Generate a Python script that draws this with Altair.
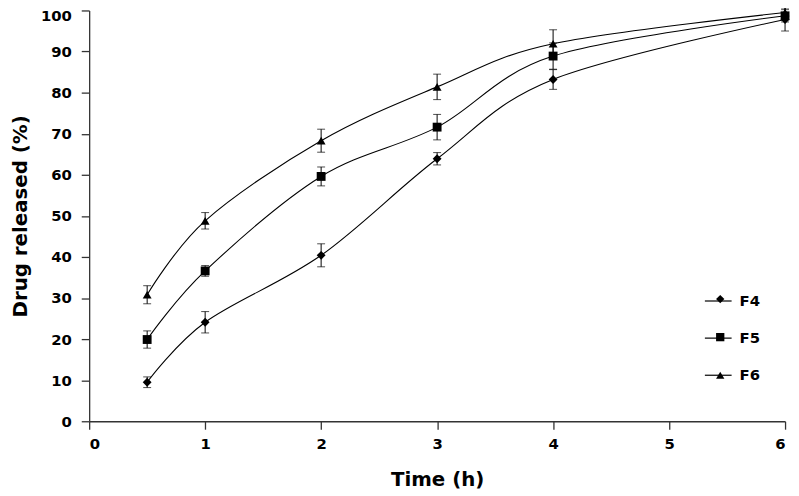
import altair as alt
import pandas as pd

times = [0.5, 1, 2, 3, 4, 6]
f4 = [9.5, 24.1, 40.4, 63.9, 83.2, 97.8]
f4_err = [1.3, 2.6, 2.8, 1.5, 2.4, 2.8]
f5 = [19.9, 36.6, 59.6, 71.6, 88.9, 98.7]
f5_err = [2.1, 1.3, 2.3, 3.1, 3.2, 1.5]
f6 = [30.8, 48.8, 68.3, 81.4, 91.9, 99.5]
f6_err = [2.2, 2.0, 2.8, 3.1, 3.4, 1.5]
series = ["F4", "F5", "F6"]
shapes = ["diamond", "square", "triangle-up"]

rows = []
for name, vals, errs in zip(series, [f4, f5, f6], [f4_err, f5_err, f6_err]):
    for t, v, e in zip(times, vals, errs):
        rows.append({"time": t, "value": v, "lo": v - e, "hi": v + e,
                     "series": name, "marker": name + " "})
df = pd.DataFrame(rows)

FONT = "DejaVu Sans"
xs = alt.Scale(domain=[0, 6], nice=False)
ys = alt.Scale(domain=[0, 100], nice=False)

x_axis = alt.Axis(values=list(range(0, 7)), title="Time (h)", format="d",
                  labelPadding=8, titleY=65, titleBaseline="alphabetic")
y_axis = alt.Axis(values=list(range(0, 101, 10)), title="Drug released (%)", format="d",
                  labelPadding=10, titleX=-63, titleAngle=270, titleBaseline="alphabetic",
                  titleAlign="center",
                  labelOffset={"condition": {"test": "datum.value == 100", "value": 5}, "value": 0})

base = alt.Chart(df)

lines = base.mark_line(interpolate="cardinal", strokeWidth=1.1).encode(
    x=alt.X("time:Q", scale=xs, axis=x_axis),
    y=alt.Y("value:Q", scale=ys, axis=y_axis),
    color=alt.Color("series:N", scale=alt.Scale(domain=series, range=["black"] * 3),
                    legend=alt.Legend(title=None, orient="none", legendX=621, legendY=279,
                                      symbolType="stroke", symbolSize=729, symbolStrokeWidth=1.2,
                                      labelFont=FONT, labelFontSize=15, labelFontWeight="bold",
                                      labelColor="black", labelOffset=7, rowPadding=14.5,
                                      padding=0, symbolStrokeColor="black")),
)

rules = base.mark_rule(color="black", strokeWidth=1).encode(
    x="time:Q", y="lo:Q", y2="hi:Q")
caps_lo = base.mark_tick(color="black", thickness=1, size=8, orient="horizontal").encode(
    x="time:Q", y="lo:Q")
caps_hi = base.mark_tick(color="black", thickness=1, size=8, orient="horizontal").encode(
    x="time:Q", y="hi:Q")

points = base.mark_point(filled=True, opacity=1, color="black", strokeWidth=0).encode(
    x="time:Q", y="value:Q",
    shape=alt.Shape("marker:N", scale=alt.Scale(domain=[s + " " for s in series], range=shapes),
                    legend=alt.Legend(title=None, orient="none", legendX=630, legendY=284,
                                      symbolSize=70, symbolFillColor="black",
                                      symbolStrokeWidth=0, labelExpr="''",
                                      labelFont=FONT, labelFontSize=15, labelFontWeight="bold",
                                      labelColor="transparent", rowPadding=22.5, padding=0)),
    size=alt.value(80),
)

chart = alt.layer(lines, rules, caps_lo, caps_hi, points).resolve_legend(
    color="independent", shape="independent"
).properties(
    width=703, height=415,
    autosize=alt.AutoSizeParams(type="none"),
    padding={"left": 82, "top": 0, "right": 6, "bottom": 73},
).configure_view(stroke=None).configure_axis(
    grid=False, domainColor="#333", tickColor="#333", domainWidth=1.3, tickWidth=1.3,
    tickSize=8, labelFont=FONT, labelFontSize=15, labelFontWeight="bold", labelColor="black",
    titleFont=FONT, titleFontSize=20, titleFontWeight="bold", titleColor="black",
)

chart.save("out.html", embed_options={"renderer": "svg", "actions": False})
